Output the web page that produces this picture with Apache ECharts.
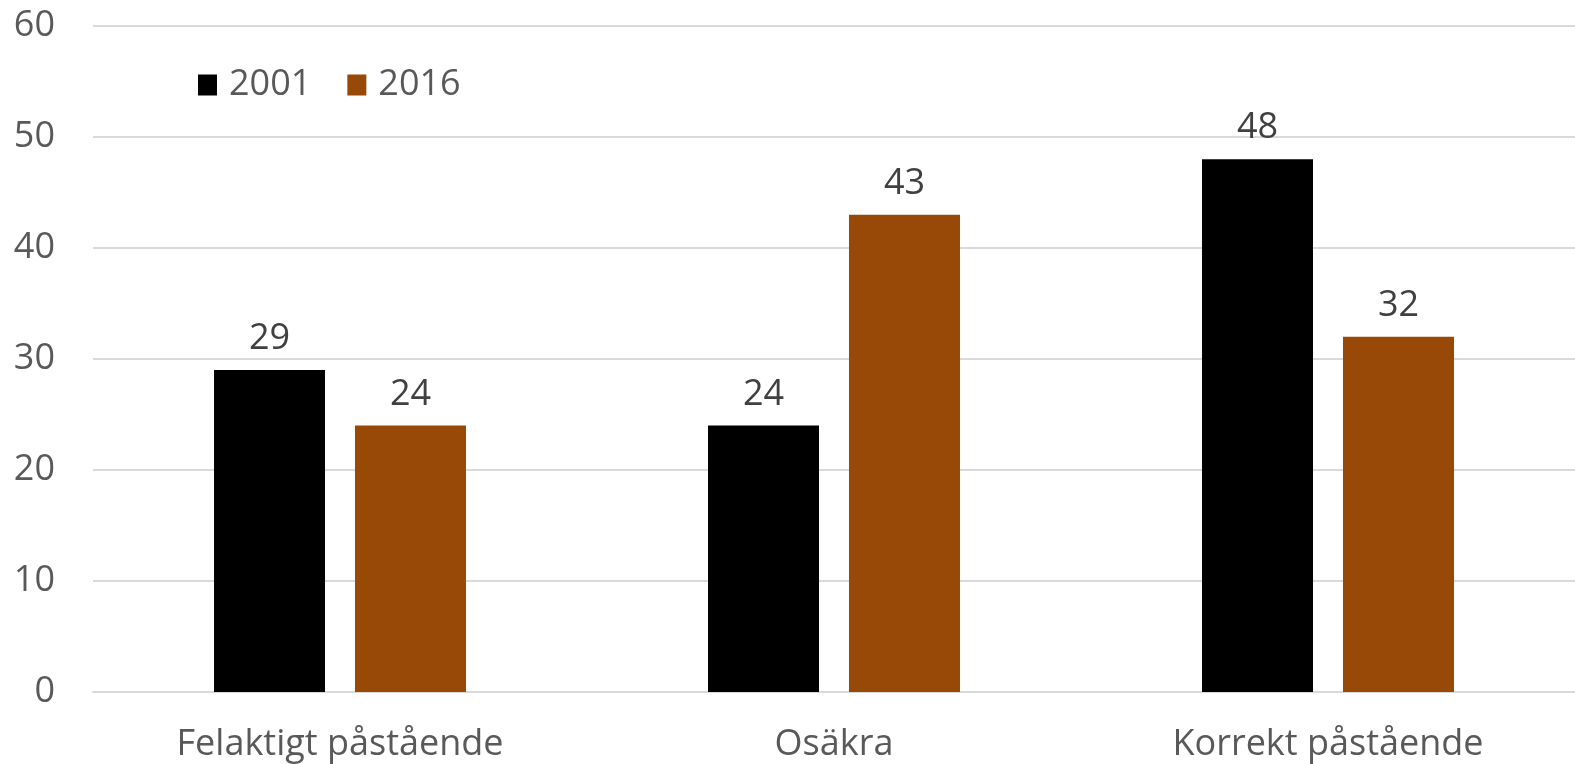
<!DOCTYPE html>
<html><head><meta charset="utf-8">
<script src="https://cdn.jsdelivr.net/npm/echarts@6/dist/echarts.min.js"></script>
<style>html,body{margin:0;padding:0;background:#fff}#c{width:1575px;height:764px}</style>
</head><body><div id="c"></div>
<script>
const categories = ['Felaktigt påstående', 'Osäkra', 'Korrekt påstående'];
const series2001 = [29, 24, 48];
const series2016 = [24, 43, 32];
const seriesNames = ['2001', '2016'];
const font = '"Open Sans", "Noto Sans", sans-serif';
const chart = echarts.init(document.getElementById('c'));
chart.setOption({
  animation: false,
  textStyle: {fontFamily: font},
  grid: {left: 93, width: 1488, top: 26, bottom: 72, containLabel: false},
  legend: {
    left: 193, top: 62, itemWidth: 19, itemHeight: 21, itemGap: 36, icon: 'rect',
    textStyle: {fontSize: 36, color: '#595959', fontFamily: font, padding: [0, 0, 0, 7]},
    data: seriesNames
  },
  xAxis: {
    type: 'category', data: categories,
    axisLine: {lineStyle: {color: '#d9d9d9', width: 2}},
    axisTick: {show: false},
    axisLabel: {fontSize: 36, color: '#595959', margin: 35, fontFamily: font}
  },
  yAxis: {
    type: 'value', min: 0, max: 60, interval: 10,
    axisLine: {show: false}, axisTick: {show: false},
    splitLine: {lineStyle: {color: '#d9d9d9', width: 2}},
    axisLabel: {fontSize: 36, color: '#595959', margin: 38, fontFamily: font}
  },
  series: [
    {name: seriesNames[0], type: 'bar', data: series2001, barWidth: 111, barGap: '27%',
     itemStyle: {color: '#000000'},
     label: {show: true, position: 'top', distance: 13, fontSize: 36, color: '#404040', fontFamily: font}},
    {name: seriesNames[1], type: 'bar', data: series2016, barWidth: 111,
     itemStyle: {color: '#984807'},
     label: {show: true, position: 'top', distance: 13, fontSize: 36, color: '#404040', fontFamily: font}}
  ]
});
</script></body></html>
